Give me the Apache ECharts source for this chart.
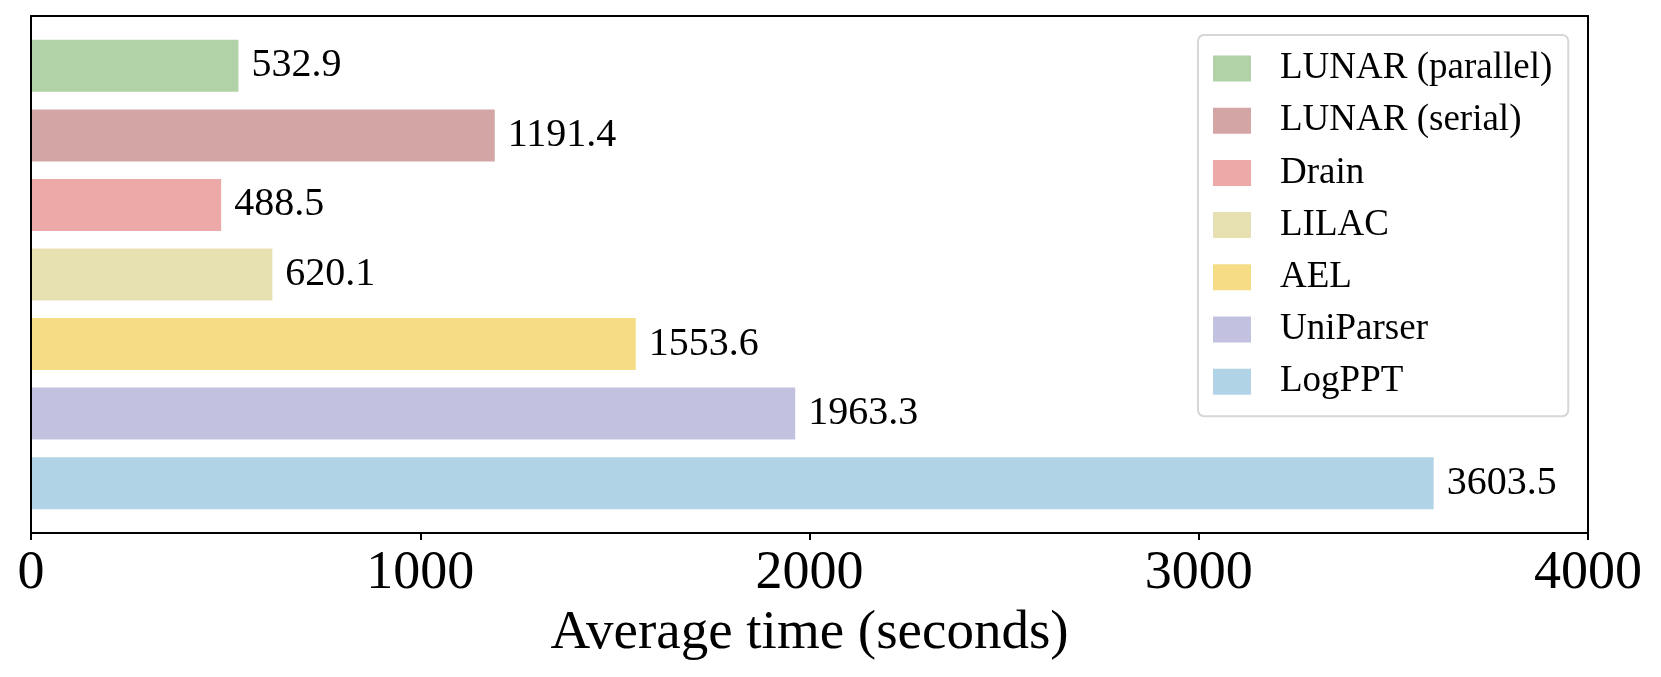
<!DOCTYPE html>
<html>
<head>
<meta charset="utf-8">
<script src="https://cdn.jsdelivr.net/npm/echarts@6/dist/echarts.min.js"></script>
<style>
html,body{margin:0;padding:0;background:#fff;}
#chart{width:1661px;height:677px;}
</style>
</head>
<body>
<div id="chart"></div>
<script>
const categories = ['LUNAR (parallel)', 'LUNAR (serial)', 'Drain', 'LILAC', 'AEL', 'UniParser', 'LogPPT'];
const values = [532.9, 1191.4, 488.5, 620.1, 1553.6, 1963.3, 3603.5];
const colors = ['#b0d2a6', '#d4a5a5', '#eda8a8', '#e7e0b1', '#f6dc85', '#c2c2e0', '#b0d4e6'];
const xTicks = [0, 1000, 2000, 3000, 4000];
const xTitle = 'Average time (seconds)';

const FONT = "'Liberation Serif', 'Times New Roman', serif";
const chart = echarts.init(document.getElementById('chart'), null, {renderer: 'canvas'});

const series = categories.map((name, i) => ({
  name: name,
  type: 'bar',
  xAxisIndex: 2,
  yAxisIndex: 2,
  barWidth: 52,
  barGap: '-100%',
  itemStyle: {color: colors[i]},
  label: {
    show: true,
    position: 'right',
    distance: 13,
    fontFamily: FONT,
    fontSize: 40,
    color: '#000',
    formatter: p => Number(p.value).toFixed(1)
  },
  emphasis: {disabled: true},
  data: categories.map((c, j) => (j === i ? values[i] : '-'))
}));

const frameAxisCommon = {
  gridIndex: 0,
  z: 10,
  axisLine: {show: true, onZero: false, lineStyle: {color: '#000', width: 2}},
  axisTick: {show: false},
  axisLabel: {show: false},
  splitLine: {show: false}
};

chart.setOption({
  animation: false,
  backgroundColor: '#fff',
  grid: [
    {left: 31, right: 73, top: 16, bottom: 144, containLabel: false},
    {left: 31, right: 73, top: 31.1, bottom: 159.1, containLabel: false}
  ],
  legend: {
    data: categories,
    orient: 'vertical',
    left: 1198,
    top: 35,
    padding: [15, 16, 16, 15],
    itemWidth: 38,
    itemHeight: 26,
    itemGap: 15.2,
    icon: 'rect',
    backgroundColor: 'rgba(255,255,255,0.8)',
    borderColor: '#d6d6d6',
    borderWidth: 2,
    borderRadius: 6,
    textStyle: {fontFamily: FONT, fontSize: 37, color: '#000', padding: [0, 0, 0, 24]},
    selectedMode: false
  },
  xAxis: [
    {
      type: 'value',
      gridIndex: 0,
      position: 'bottom',
      min: xTicks[0],
      max: xTicks[xTicks.length - 1],
      interval: xTicks[1] - xTicks[0],
      z: 10,
      axisLine: {show: true, onZero: false, lineStyle: {color: '#000', width: 2}},
      axisTick: {show: true, inside: false, length: 7, lineStyle: {color: '#000', width: 2}},
      axisLabel: {show: true, margin: 14, fontFamily: FONT, fontSize: 54, color: '#000',
                  formatter: v => String(v)},
      splitLine: {show: false},
      name: xTitle,
      nameLocation: 'middle',
      nameGap: 72,
      nameTextStyle: {fontFamily: FONT, fontSize: 55, color: '#000'}
    },
    Object.assign({type: 'value', position: 'top', min: 0, max: 1}, frameAxisCommon),
    {
      type: 'value',
      gridIndex: 1,
      min: xTicks[0],
      max: xTicks[xTicks.length - 1],
      show: false
    }
  ],
  yAxis: [
    Object.assign({type: 'value', position: 'left', min: 0, max: 1}, frameAxisCommon),
    Object.assign({type: 'value', position: 'right', min: 0, max: 1}, frameAxisCommon),
    {
      type: 'category',
      gridIndex: 1,
      data: categories,
      inverse: true,
      show: false
    }
  ],
  series: series
});
</script>
</body>
</html>
